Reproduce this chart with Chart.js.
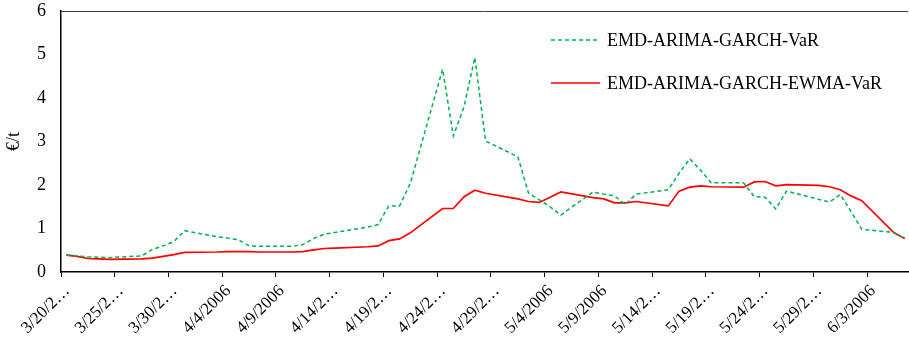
<!DOCTYPE html>
<html>
<head>
<meta charset="utf-8">
<script src="https://cdn.jsdelivr.net/npm/chart.js@4.4.1/dist/chart.umd.min.js"></script>
<style>
  html, body { margin: 0; padding: 0; background: #fff; }
</style>
</head>
<body>
<canvas id="myChart" width="909" height="342"></canvas>
<script>
let dates = [
  '3/20/2006','3/21/2006','3/22/2006','3/23/2006','3/24/2006',
  '3/27/2006','3/28/2006','3/29/2006','3/30/2006','3/31/2006',
  '4/3/2006','4/4/2006','4/5/2006','4/6/2006','4/7/2006',
  '4/10/2006','4/11/2006','4/12/2006','4/13/2006','4/14/2006',
  '4/17/2006','4/18/2006','4/19/2006','4/20/2006','4/21/2006',
  '4/24/2006','4/25/2006','4/26/2006','4/27/2006','4/28/2006',
  '5/1/2006','5/2/2006','5/3/2006','5/4/2006','5/5/2006',
  '5/8/2006','5/9/2006','5/10/2006','5/11/2006','5/12/2006',
  '5/15/2006','5/16/2006','5/17/2006','5/18/2006','5/19/2006',
  '5/22/2006','5/23/2006','5/24/2006','5/25/2006','5/26/2006',
  '5/29/2006','5/30/2006','5/31/2006','6/1/2006','6/2/2006',
  '6/5/2006','6/6/2006'
];
let garchVaR = [
  0.39, 0.37, 0.35, 0.34, 0.33,
  0.37, 0.52, 0.60, 0.70, 0.95,
  0.81, 0.78, 0.74, 0.60, 0.59,
  0.59, 0.63, 0.77, 0.87, 0.91,
  1.03, 1.09, 1.52, 1.52, 2.04,
  4.66, 3.13, 3.80, 4.93, 3.01,
  2.65, 1.81, 1.66, 1.50, 1.31,
  1.84, 1.79, 1.75, 1.55, 1.79,
  1.89, 2.27, 2.60, 2.34, 2.05,
  2.05, 1.73, 1.72, 1.45, 1.86,
  1.67, 1.61, 1.78, 1.39, 0.98,
  0.91, 0.77
];
let ewmaVaR = [
  0.39, 0.36, 0.31, 0.30, 0.29,
  0.30, 0.32, 0.36, 0.40, 0.45,
  0.46, 0.47, 0.47, 0.47, 0.46,
  0.46, 0.47, 0.51, 0.54, 0.55,
  0.58, 0.60, 0.72, 0.76, 0.90,
  1.46, 1.46, 1.73, 1.88, 1.81,
  1.68, 1.62, 1.60, 1.72, 1.84,
  1.71, 1.68, 1.59, 1.59, 1.62,
  1.52, 1.86, 1.95, 1.98, 1.96,
  1.95, 2.07, 2.08, 1.98, 2.01,
  1.99, 1.96, 1.89, 1.75, 1.64,
  0.90, 0.77
];
let yTicks = [0, 1, 2, 3, 4, 5, 6];
let startDate = '3/20/2006';
let tickEveryDays = 5;

const DAY = 86400000;
function toUTC(s) {
  let p = s.split('/');
  return Date.UTC(+p[2], +p[0] - 1, +p[1]);
}
let t0 = toUTC(startDate);
function dayIndex(s) { return Math.round((toUTC(s) - t0) / DAY); }
function dayLabel(d) {
  let dt = new Date(t0 + d * DAY);
  let s = (dt.getUTCMonth() + 1) + '/' + dt.getUTCDate() + '/' + dt.getUTCFullYear();
  return s.length > 8 ? s.slice(0, 6) + '\u2026' : s;
}
function points(vals) {
  return dates.map((d, i) => ({ x: dayIndex(d), y: vals[i] }));
}
let lastDay = dayIndex(dates[dates.length - 1]);

const serif = '"Liberation Serif", "Times New Roman", serif';

const legendInside = {
  id: 'legendInside',
  afterDatasetsDraw(chart) {
    const c = chart.ctx;
    chart.data.datasets.forEach((ds, i) => {
      let y = 40 + i * 43;
      c.save();
      c.strokeStyle = ds.borderColor;
      c.lineWidth = ds.borderWidth;
      c.setLineDash(ds.borderDash || []);
      c.beginPath();
      c.moveTo(551, y);
      c.lineTo(600, y);
      c.stroke();
      c.setLineDash([]);
      c.fillStyle = '#000';
      c.font = '18px ' + serif;
      c.textBaseline = 'middle';
      c.fillText(ds.label, 607, y + 1);
      c.restore();
    });
  }
};

// thin frame line along the top of the plot area
const topBorder = {
  id: 'topBorder',
  afterDraw(chart) {
    const a = chart.chartArea, c = chart.ctx;
    c.save();
    c.strokeStyle = '#404040';
    c.lineWidth = 1;
    c.beginPath();
    c.moveTo(a.left, a.top + 0.5);
    c.lineTo(a.right, a.top + 0.5);
    c.stroke();
    c.restore();
  }
};

let ctx = document.getElementById('myChart').getContext('2d');
let myChart = new Chart(ctx, {
  type: 'line',
  data: {
    datasets: [{
      label: 'EMD-ARIMA-GARCH-VaR',
      data: points(garchVaR),
      borderColor: '#00B050',
      borderWidth: 1.5,
      borderDash: [4, 3],
      pointRadius: 0,
      tension: 0,
      fill: false
    }, {
      label: 'EMD-ARIMA-GARCH-EWMA-VaR',
      data: points(ewmaVaR),
      borderColor: '#FF0000',
      borderWidth: 1.7,
      pointRadius: 0,
      tension: 0,
      fill: false
    }]
  },
  options: {
    responsive: false,
    animation: false,
    layout: { autoPadding: false, padding: { top: 11, right: 1, left: 0, bottom: 0 } },
    plugins: {
      legend: { display: false },
      tooltip: { enabled: false }
    },
    scales: {
      x: {
        type: 'linear',
        min: -0.5,
        max: lastDay + 0.3,
        afterBuildTicks(scale) {
          let t = [];
          for (let d = 0; d <= lastDay; d += tickEveryDays) t.push({ value: d - 0.5 });
          scale.ticks = t;
        },
        afterFit(scale) { scale.height = 70; },
        grid: { drawOnChartArea: false, drawTicks: true, tickLength: 5, color: '#000', lineWidth: 1 },
        border: { color: '#000', width: 1.5 },
        ticks: {
          autoSkip: false,
          minRotation: 45,
          maxRotation: 45,
          padding: 4,
          labelOffset: 6,
          color: '#000',
          font: { family: serif, size: 17 },
          callback: (v) => dayLabel(v + 0.5)
        }
      },
      y: {
        min: 0,
        max: 6,
        afterBuildTicks(scale) {
          scale.ticks = yTicks.map(v => ({ value: v }));
        },
        afterFit(scale) {
          scale.width = 61;
          scale.paddingTop = 0;
          scale.paddingBottom = 0;
        },
        grid: { drawOnChartArea: false, drawTicks: false },
        border: { color: '#000', width: 1.5 },
        ticks: {
          padding: 15,
          color: '#000',
          font: { family: serif, size: 18 }
        },
        title: {
          display: true,
          text: '\u20AC/t',
          color: '#000',
          padding: 3,
          font: { family: serif, size: 18 }
        }
      }
    }
  },
  plugins: [legendInside, topBorder]
});
</script>
</body>
</html>
